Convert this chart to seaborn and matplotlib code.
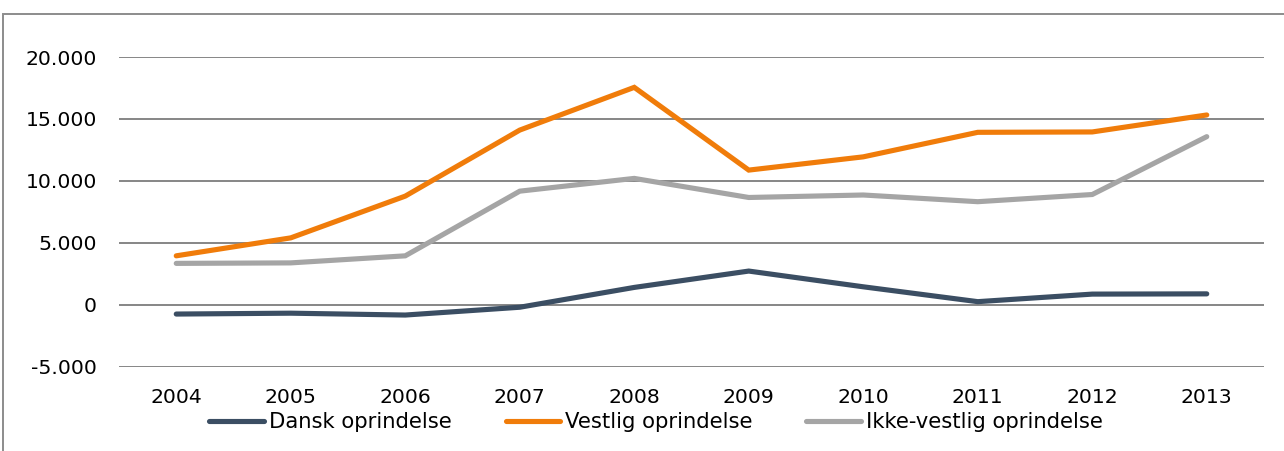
import pandas as pd
import matplotlib
matplotlib.use('Agg')
import matplotlib.pyplot as plt
import seaborn as sns
from matplotlib.patches import Rectangle
from matplotlib.ticker import FuncFormatter

years = [2004, 2005, 2006, 2007, 2008, 2009, 2010, 2011, 2012, 2013]
dansk = [-750, -680, -830, -200, 1400, 2720, 1450, 250, 860, 880]
vestlig = [3950, 5400, 8770, 14100, 17550, 10870, 11940, 13920, 13950, 15320]
ikke_vestlig = [3340, 3380, 3950, 9170, 10200, 8660, 8860, 8320, 8900, 13570]

series = ['Dansk oprindelse', 'Vestlig oprindelse', 'Ikke-vestlig oprindelse']
colors = ['#3B4E63', '#F07C0A', '#A5A5A5']

data = pd.DataFrame({
    'year': years * 3,
    'value': dansk + vestlig + ikke_vestlig,
    'serie': [series[0]] * 10 + [series[1]] * 10 + [series[2]] * 10,
})

sns.set_style('white')
plt.rcParams['font.family'] = ['DejaVu Sans']

fig = plt.figure(figsize=(12.84, 4.51), dpi=100)
ax = fig.add_axes([119 / 1284, 1 - 366.7 / 451, (1264 - 119) / 1284, (366.7 - 57) / 451])

sns.lineplot(data=data, x='year', y='value', hue='serie', palette=colors,
             linewidth=3.7, ax=ax, legend=False)
for ln in ax.lines:
    ln.set_solid_capstyle('round')
    ln.set_solid_joinstyle('miter')

ax.set_xlim(2003.5, 2013.5)
ax.set_ylim(-5000, 20000)
ax.set_yticks([-5000, 0, 5000, 10000, 15000, 20000])
ax.set_xticks(years)
ax.yaxis.set_major_formatter(FuncFormatter(lambda v, p: f'{int(v):,}'.replace(',', '.')))
ax.yaxis.grid(True, color='#868686', linewidth=1.4)
ax.set_axisbelow(True)
for s in ax.spines.values():
    s.set_visible(False)
ax.tick_params(axis='both', length=0, labelsize=14.7, colors='black')
ax.tick_params(axis='y', pad=16)
ax.tick_params(axis='x', pad=15)
ax.set_xlabel('')
ax.set_ylabel('')

handles = [plt.Line2D([], [], color=c, linewidth=3.7, solid_capstyle='round') for c in colors]
fig.legend(handles, series, loc='center', bbox_to_anchor=(0.511, 0.064), ncol=3,
           frameon=False, fontsize=15.2, handlelength=2.6, handletextpad=0.22,
           columnspacing=2.55, labelcolor='black')

# chart frame
fig.patches.append(Rectangle((3 / 1284, -0.1), 1.2, 1 - 14 / 451 + 0.1,
                             transform=fig.transFigure, fill=False,
                             edgecolor='#8C8C8C', linewidth=1.4))

fig.savefig('out.png', dpi=100)
